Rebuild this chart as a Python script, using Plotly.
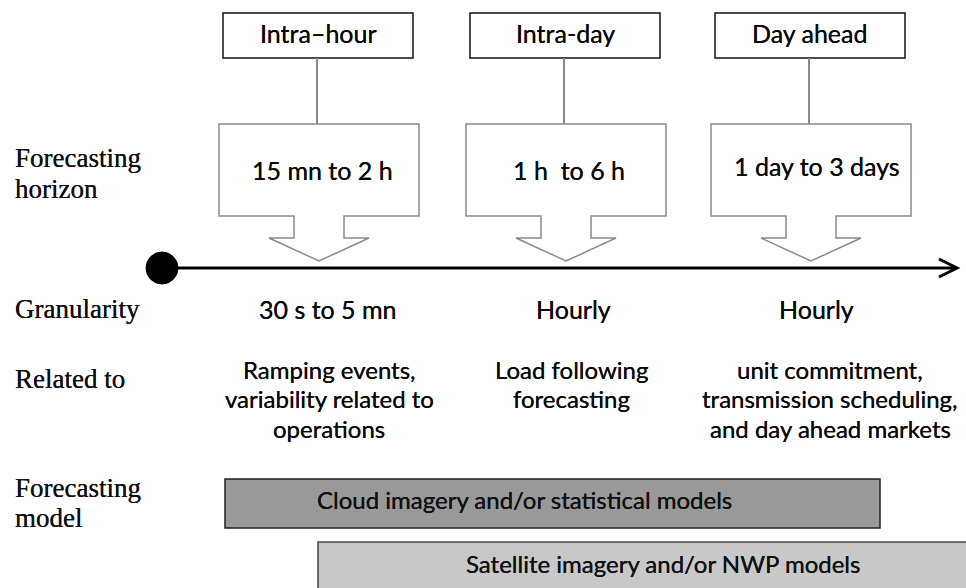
import plotly.graph_objects as go

# ---- content ----
horizon_names = ["Intra\u2013hour", "Intra-day", "Day ahead"]
horizon_ranges = ["15 mn to 2 h", "1 h  to 6 h", "1 day to 3 days"]
granularity = ["30 s to 5 mn", "Hourly", "Hourly"]
related_to = [
    ["Ramping events,", "variability related to", "operations"],
    ["Load following", "forecasting"],
    ["unit commitment,", "transmission scheduling,", "and day ahead markets"],
]
row_labels = [["Forecasting", "horizon"], ["Granularity"], ["Related to"], ["Forecasting", "model"]]
model_names = ["Cloud imagery and/or statistical models", "Satellite imagery and/or NWP models"]

# ---- layout geometry (pixels, y downwards) ----
W, H = 966, 588
col_x = [319, 566, 811]          # arrow tips on the timeline
top_box_w, top_box_y0, top_box_y1 = 190, 13, 58
call_w, call_y0, call_y1 = 200, 124, 216
stem_half, stem_y1 = 25, 238
head_half, tip_y = 50, 261
timeline_y, timeline_x0, timeline_x1 = 268, 162, 957
model_bars = [dict(x0=225, x1=880, y0=479, y1=528, fill="#999999", line="#222222", tx=524, ty=499),
              dict(x0=318, x1=975, y0=542, y1=600, fill="#c8c8c8", line="#444444", tx=663, ty=563)]

SANS = "Lato, 'Noto Sans', sans-serif"
SERIF = "'Liberation Serif', 'Times New Roman', serif"
SHADOW = "0px 0px 0.6px #000000"

fig = go.Figure()
shapes = []
ann = []

def text(x, y, s, size=25, family=SANS, color="#0a0a0a", xanchor="center"):
    ann.append(dict(x=x, y=y, text=s, showarrow=False, xanchor=xanchor, yanchor="middle",
                    font=dict(size=size, family=family, color=color, shadow=SHADOW)))

gran_dx = [9, 7, 5]
rel_dx = [10, 5, 19]
for i, cx in enumerate(col_x):
    # top label box
    shapes.append(dict(type="rect", x0=cx - top_box_w / 2 - 1, x1=cx + top_box_w / 2 - 1,
                       y0=top_box_y0, y1=top_box_y1, line=dict(color="#111111", width=1.5),
                       fillcolor="white"))
    text(cx - 1, 33, horizon_names[i], size=25)
    # connector
    shapes.append(dict(type="line", x0=cx - 2, x1=cx - 2, y0=top_box_y1, y1=call_y0,
                       line=dict(color="#8a8a8a", width=2)))
    # callout with down arrow
    l, r = cx - call_w / 2, cx + call_w / 2
    pts = [(l, call_y0), (r, call_y0), (r, call_y1), (cx + stem_half, call_y1),
           (cx + stem_half, stem_y1), (cx + head_half, stem_y1), (cx, tip_y),
           (cx - head_half, stem_y1), (cx - stem_half, stem_y1), (cx - stem_half, call_y1),
           (l, call_y1)]
    path = "M " + " L ".join(f"{x},{y}" for x, y in pts) + " Z"
    shapes.append(dict(type="path", path=path, line=dict(color="#8a8a8a", width=1.5),
                       fillcolor="white"))
    text(cx + 3 if i < 2 else cx + 6, 170 if i < 2 else 166, horizon_ranges[i], size=25)
    # granularity
    text(cx + gran_dx[i], 309, granularity[i], size=25)
    # related to
    for j, line in enumerate(related_to[i]):
        text(cx + rel_dx[i], 369 + j * 29.5, line, size=24)

# timeline
shapes.append(dict(type="line", x0=timeline_x0, x1=timeline_x1 - 2, y0=timeline_y, y1=timeline_y,
                   line=dict(color="#000000", width=3)))
shapes.append(dict(type="path", path=f"M {timeline_x1-18},{timeline_y-9} L {timeline_x1},{timeline_y} L {timeline_x1-18},{timeline_y+9}",
                   line=dict(color="#000000", width=3)))
shapes.append(dict(type="circle", x0=timeline_x0 - 16, x1=timeline_x0 + 16,
                   y0=timeline_y - 16, y1=timeline_y + 16, fillcolor="#000000",
                   line=dict(color="#000000", width=1)))

# model bars
for b, name in zip(model_bars, model_names):
    shapes.append(dict(type="rect", x0=b["x0"], x1=b["x1"], y0=b["y0"], y1=b["y1"],
                       fillcolor=b["fill"], line=dict(color=b["line"], width=1.5)))
    text(b["tx"], b["ty"], name, size=24, color="#111111")

# row labels
row_y = [[158, 189], [309], [379], [488, 518]]
for lab, ys in zip(row_labels, row_y):
    for s, y in zip(lab, ys):
        text(13, y, s, size=27, family=SERIF, color="#111111", xanchor="left")

fig.update_layout(
    width=W, height=H, autosize=False,
    margin=dict(l=0, r=0, t=0, b=0),
    paper_bgcolor="white", plot_bgcolor="white",
    xaxis=dict(range=[0, W], visible=False, fixedrange=True),
    yaxis=dict(range=[H, 0], visible=False, fixedrange=True),
    shapes=shapes, annotations=ann, showlegend=False,
)
fig.write_html("out.html", config=dict(displayModeBar=False),
               post_script="document.body.style.margin='0';document.body.style.overflow='hidden';")
